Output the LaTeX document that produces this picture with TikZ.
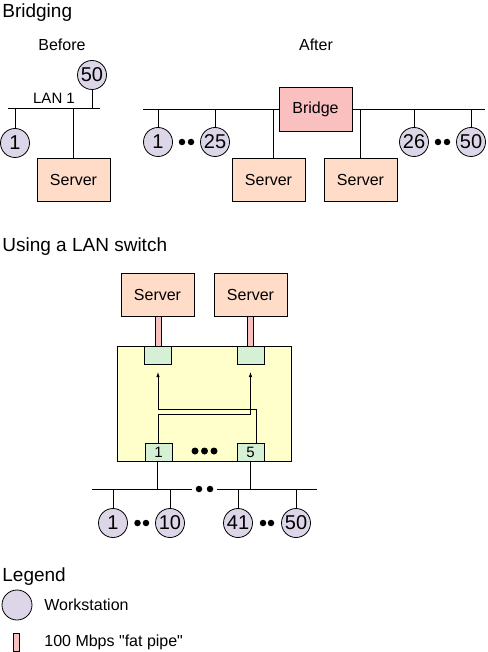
\documentclass[tikz,border=0pt]{standalone}
\usepackage{fontspec}
\setmainfont{Liberation Sans}[Ligatures=TeXOff]
\usetikzlibrary{arrows.meta}
\definecolor{wscol}{RGB}{221,214,232}
\definecolor{srvcol}{RGB}{255,220,200}
\definecolor{brcol}{RGB}{250,192,192}
\definecolor{swcol}{RGB}{255,255,204}
\definecolor{portcol}{RGB}{214,240,214}
\definecolor{pipecol}{RGB}{250,192,192}
\begin{document}
\begin{tikzpicture}[x=1pt,y=-1pt,line width=0.8pt,
  ws/.style={circle,draw,fill=wscol,minimum size=29pt,inner sep=0pt,font=\fontsize{20}{20}\selectfont},
  srv/.style={rectangle,draw,fill=srvcol,minimum width=73pt,minimum height=43pt,inner sep=0pt,font=\fontsize{16}{16}\selectfont},
  brg/.style={srv,fill=brcol,minimum height=44pt},
  swbox/.style={rectangle,draw,fill=swcol,minimum width=174pt,minimum height=115pt,inner sep=0pt},
  port/.style={rectangle,draw,fill=portcol,minimum width=27pt,minimum height=18pt,inner sep=0pt,font=\fontsize{15}{15}\selectfont},
  pipe/.style={rectangle,draw,fill=pipecol,minimum width=6pt,inner sep=0pt},
  dotn/.style={circle,fill=black,minimum size=6.5pt,inner sep=0pt},
  heading/.style={anchor=base west,inner sep=0pt,font=\fontsize{19}{19}\selectfont},
  lbl/.style={inner sep=0pt,font=\fontsize{16}{16}\selectfont},
  tip/.style={-{Latex[length=5pt,width=3.5pt]}}
]
\useasboundingbox (0,0) rectangle (487,652);

% ---------- Bridging ----------
\node[heading] (hbr) at (2,18) {Bridging};
\node[lbl,anchor=base] (tbefore) at (62,51) {Before};
\node[lbl,anchor=base] (tafter) at (316,51) {After};

% Before
\coordinate (lanA) at (8,108);
\coordinate (lanB) at (100,108);
\draw (lanA) -- (lanB);
\node[lbl,anchor=base,font=\fontsize{15}{15}\selectfont] (tlan) at (54,104) {LAN 1};
\node[ws] (b50) at (92,75) {50};
\node[ws] (b1) at (15,143) {1};
\node[srv] (bsrv) at (73.5,179.5) {Server};
\draw (b50) -- (b50 |- lanA);
\draw (b1) -- (b1 |- lanA);
\draw (bsrv) -- (bsrv |- lanA);

% After
\coordinate (busA) at (143,109);
\coordinate (busB) at (485,109);
\draw (busA) -- (busB);
\node[brg] (bridge) at (315.5,109) {Bridge};
\node[ws] (a1) at (158,142) {1};
\node[ws] (a25) at (215,142) {25};
\node[ws] (a26) at (414,142) {26};
\node[ws] (a50) at (471,142) {50};
\node[dotn] (ad1) at (182,142) {};
\node[dotn] (ad2) at (191,142) {};
\node[dotn] (ad3) at (438,142) {};
\node[dotn] (ad4) at (447,142) {};
\node[srv] (asrv1) at (268.5,179.5) {Server};
\node[srv] (asrv2) at (360.5,179.5) {Server};
\foreach \n in {a1,a25,a26,a50,asrv2}{\draw (\n) -- (\n |- busA);}
\draw ([xshift=4.5pt]asrv1.north) -- ([xshift=4.5pt]asrv1.north |- busA);

% ---------- LAN switch ----------
\node[heading] (hsw) at (2,251) {Using a LAN switch};
\node[srv] (ssrvL) at (157.5,294.5) {Server};
\node[srv] (ssrvR) at (250.5,294.5) {Server};
\node[swbox] (sw) at (204,403.5) {};
\node[port] (ptL) at (157.5,355) {};
\node[port] (ptR) at (250.5,355) {};
\node[pipe,minimum height=30pt] (pipeL) at (158.5,331) {};
\node[pipe,minimum height=30pt] (pipeR) at (250.5,331) {};
\node[port] (pb1) at (158.5,452) {1};
\node[port] (pb5) at (250.5,452) {5};
\node[dotn,minimum size=7pt] (sd1) at (195,451) {};
\node[dotn,minimum size=7pt] (sd2) at (204.5,451) {};
\node[dotn,minimum size=7pt] (sd3) at (214,451) {};
\coordinate (tipL) at (158,372);
\coordinate (tipR) at (250.5,372);
\draw[tip] ([xshift=5.5pt]pb5.north) |- (158,409) -- (tipL);
\draw[tip] ([xshift=-0.5pt]pb1.north) |- (250.5,414) -- (tipR);

% bottom bus
\coordinate (sbA) at (92,489);
\coordinate (sbB) at (192,489);
\coordinate (sbC) at (217,489);
\coordinate (sbD) at (317,489);
\draw (sbA) -- (sbB);
\draw (sbC) -- (sbD);
\node[dotn] (bd1) at (199,489) {};
\node[dotn] (bd2) at (210,489) {};
\draw ([xshift=-1pt]pb1.south) -- ([xshift=-1pt]pb1.south |- sbA);
\draw (pb5.south) -- (pb5.south |- sbA);
\node[ws] (c1) at (113,523) {1};
\node[ws] (c10) at (170,523) {10};
\node[ws] (c41) at (238,523) {41};
\node[ws] (c50) at (296,523) {50};
\node[dotn] (cd1) at (137.5,523) {};
\node[dotn] (cd2) at (146,523) {};
\node[dotn] (cd3) at (263,523) {};
\node[dotn] (cd4) at (271,523) {};
\foreach \n in {c1,c10,c41,c50}{\draw (\n) -- (\n |- sbA);}

% ---------- Legend ----------
\node[heading] (hleg) at (2,581) {Legend};
\node[ws,minimum size=30pt] (lws) at (17,605) {};
\node[lbl,anchor=west] (tws) at (44,605) {Workstation};
\node[pipe,minimum height=18pt] (lpipe) at (16,642) {};
\node[lbl,anchor=west] (tpipe) at (44,642) {100 Mbps "fat pipe"};
\end{tikzpicture}
\end{document}
